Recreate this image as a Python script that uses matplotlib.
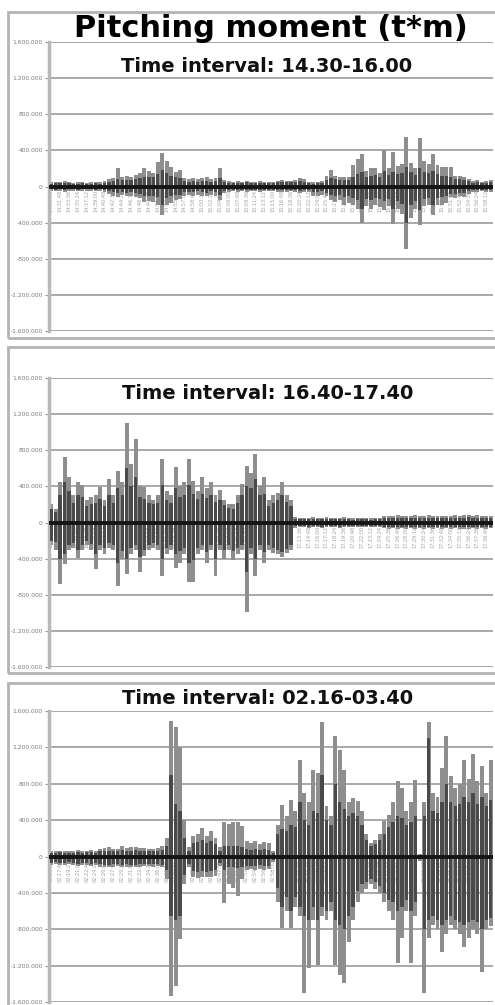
import matplotlib
matplotlib.use("Agg")
import matplotlib.pyplot as plt
from matplotlib.patches import Rectangle
import numpy as np

# ---------------- data (values in thousands of t*m) ----------------
title = "Pitching moment (t*m)"
subtitles = ["Time interval: 14.30-16.00", "Time interval: 16.40-17.40", "Time interval: 02.16-03.40"]
time_ranges = [("14:30", "16:00"), ("16:40", "17:40"), ("02:16", "03:40")]
yticks = [-1600, -1200, -800, -400, 0, 400, 800, 1200, 1600]

p1_light_up = [45, 50, 55, 60, 50, 40, 45, 50, 40, 45,
               50, 45, 60, 80, 90, 200, 110, 120, 100, 130,
               150, 200, 170, 150, 270, 375, 280, 215, 160, 180,
               90, 85, 95, 80, 90, 100, 80, 90, 200, 70,
               60, 55, 60, 50, 65, 55, 50, 60, 55, 50,
               55, 60, 70, 65, 60, 70, 90, 85, 50, 45,
               50, 60, 120, 178, 120, 100, 110, 100, 233, 300,
               360, 170, 200, 210, 150, 400, 200, 380, 230, 250,
               545, 260, 200, 535, 280, 250, 365, 240, 215, 215,
               215, 120, 120, 110, 85, 60, 70, 55, 60, 70]
p1_dark_up = [30, 35, 40, 40, 35, 30, 30, 35, 30, 30,
              35, 30, 40, 50, 60, 80, 70, 75, 70, 80,
              90, 110, 100, 100, 140, 180, 150, 120, 100, 90,
              60, 55, 60, 55, 60, 65, 55, 60, 90, 50,
              40, 40, 40, 35, 45, 40, 35, 40, 40, 35,
              40, 45, 50, 45, 45, 50, 60, 55, 35, 30,
              35, 40, 70, 90, 80, 70, 75, 70, 110, 140,
              160, 110, 120, 130, 100, 170, 130, 160, 140, 150,
              220, 160, 130, 200, 160, 150, 170, 140, 120, 120,
              110, 80, 80, 70, 60, 40, 45, 40, 40, 45]
p1_light_down = [50, 55, 50, 60, 45, 50, 55, 50, 45, 50,
                 55, 50, 60, 80, 100, 120, 90, 110, 100, 120,
                 130, 170, 160, 170, 200, 320, 210, 180, 150, 140,
                 100, 95, 100, 90, 100, 110, 90, 100, 150, 70,
                 60, 55, 60, 55, 60, 55, 50, 60, 55, 50,
                 55, 60, 65, 60, 55, 65, 70, 65, 60, 100,
                 100, 90, 110, 150, 170, 150, 200, 180, 210, 250,
                 400, 220, 250, 200, 230, 260, 220, 415, 250, 300,
                 690, 350, 250, 430, 220, 200, 320, 210, 200, 180,
                 120, 130, 110, 120, 80, 60, 65, 55, 60, 60]
p1_dark_down = [30, 35, 30, 40, 30, 30, 35, 30, 30, 30,
                35, 30, 40, 50, 60, 70, 60, 70, 65, 75,
                80, 100, 100, 110, 120, 200, 130, 110, 90, 90,
                60, 60, 65, 55, 60, 70, 55, 60, 90, 45,
                40, 35, 40, 35, 40, 35, 35, 40, 35, 35,
                35, 40, 40, 40, 35, 40, 45, 40, 40, 60,
                60, 55, 70, 90, 100, 90, 120, 110, 130, 150,
                250, 140, 150, 130, 140, 160, 140, 250, 160, 190,
                400, 210, 160, 260, 140, 130, 200, 130, 120, 110,
                80, 80, 70, 75, 50, 40, 40, 35, 40, 40]

p2_light_up = [200, 150, 450, 720, 500, 300, 450, 410, 250, 280,
               300, 390, 250, 480, 300, 575, 450, 1100, 650, 920,
               400, 390, 300, 250, 300, 700, 350, 300, 610, 400,
               450, 700, 465, 350, 500, 380, 450, 300, 355, 250,
               210, 200, 300, 430, 630, 550, 755, 400, 500, 250,
               300, 330, 450, 300, 250, 60, 55, 50, 55, 60,
               55, 50, 60, 55, 50, 55, 60, 50, 45, 50,
               55, 50, 45, 50, 55, 70, 75, 70, 80, 75,
               70, 75, 80, 70, 75, 80, 70, 75, 70, 75,
               70, 80, 75, 80, 85, 75, 80, 70, 75, 70]
p2_dark_up = [150, 120, 300, 450, 350, 220, 300, 280, 180, 200,
              220, 260, 180, 300, 220, 380, 300, 600, 400, 500,
              280, 260, 220, 200, 220, 420, 250, 220, 380, 280,
              300, 420, 320, 260, 320, 270, 300, 230, 250, 190,
              160, 150, 220, 300, 400, 380, 480, 300, 320, 180,
              220, 250, 300, 230, 180, 40, 40, 35, 40, 40,
              40, 35, 40, 40, 35, 40, 40, 35, 30, 35,
              40, 35, 30, 35, 40, 50, 55, 50, 55, 55,
              50, 55, 55, 50, 55, 55, 50, 55, 50, 55,
              50, 55, 55, 55, 60, 55, 55, 50, 55, 50]
p2_light_down = [250, 300, 680, 460, 300, 280, 390, 300, 250, 300,
                 515, 300, 350, 280, 300, 700, 400, 570, 350, 300,
                 550, 370, 300, 280, 300, 590, 350, 300, 500, 445,
                 350, 660, 660, 350, 300, 450, 300, 590, 300, 400,
                 300, 420, 350, 300, 990, 350, 590, 300, 450, 300,
                 335, 350, 380, 340, 300, 60, 55, 55, 60, 55,
                 55, 60, 55, 50, 55, 60, 55, 50, 55, 55,
                 50, 55, 55, 50, 55, 65, 70, 65, 70, 65,
                 70, 65, 70, 65, 70, 65, 70, 65, 70, 65,
                 70, 65, 70, 75, 70, 65, 70, 65, 70, 65]
p2_dark_down = [200, 220, 400, 350, 250, 230, 300, 250, 200, 240,
                350, 250, 280, 230, 250, 450, 320, 400, 280, 250,
                380, 300, 250, 230, 250, 400, 280, 250, 350, 320,
                280, 450, 420, 280, 250, 330, 250, 400, 250, 300,
                250, 320, 280, 250, 550, 280, 400, 250, 330, 250,
                280, 300, 330, 290, 250, 40, 40, 40, 45, 40,
                40, 45, 40, 35, 40, 45, 40, 35, 40, 40,
                35, 40, 40, 35, 40, 50, 50, 50, 55, 50,
                50, 50, 55, 50, 55, 50, 55, 50, 55, 50,
                55, 50, 55, 55, 55, 50, 55, 50, 55, 50]

p3_light_up = [60, 55, 65, 60, 55, 60, 70, 60, 65, 70,
               60, 80, 90, 100, 85, 80, 110, 90, 100, 105,
               95, 90, 80, 85, 90, 110, 200, 1490, 1420, 1200,
               400, 100, 220, 250, 310, 220, 280, 200, 100, 380,
               360, 380, 380, 340, 165, 150, 170, 140, 160, 150,
               60, 350, 570, 450, 625, 500, 1060, 700, 600, 950,
               915, 1480, 550, 450, 1320, 1170, 950, 600, 645, 610,
               500, 250, 150, 180, 250, 390, 460, 600, 825, 750,
               500, 600, 845, 30, 600, 1480, 700, 650, 970, 1320,
               880, 750, 800, 1060, 850, 1130, 825, 1000, 700, 1060]
p3_dark_up = [40, 35, 45, 40, 35, 40, 45, 40, 45, 45,
              40, 55, 60, 65, 55, 55, 70, 60, 65, 70,
              60, 60, 55, 55, 60, 70, 120, 900, 580, 500,
              200, 60, 150, 160, 180, 150, 170, 140, 60, 120,
              110, 120, 110, 100, 80, 75, 85, 70, 80, 75,
              40, 250, 300, 280, 350, 320, 600, 400, 350, 500,
              480, 900, 400, 350, 800, 600, 520, 450, 480, 450,
              350, 180, 120, 140, 180, 250, 320, 380, 450, 420,
              350, 380, 450, 20, 450, 1300, 500, 480, 600, 800,
              600, 550, 580, 650, 600, 700, 580, 650, 560, 620]
p3_light_down = [90, 85, 95, 90, 85, 95, 100, 90, 95, 100,
                 95, 110, 115, 120, 110, 105, 120, 110, 115, 120,
                 110, 105, 100, 110, 105, 120, 250, 1530, 1420, 910,
                 300, 120, 220, 240, 220, 230, 220, 210, 100, 510,
                 300, 350, 435, 250, 145, 140, 150, 135, 145, 140,
                 60, 500, 790, 600, 790, 550, 650, 1500, 1230, 700,
                 1190, 650, 700, 600, 1190, 1300, 1390, 940, 700, 500,
                 400, 355, 300, 355, 400, 500, 600, 700, 1170, 900,
                 600, 1170, 650, 50, 1500, 900, 750, 800, 1050, 850,
                 750, 800, 850, 1000, 900, 800, 850, 1270, 800, 760]
p3_dark_down = [70, 65, 75, 70, 65, 75, 80, 70, 75, 80,
                75, 85, 90, 95, 85, 80, 95, 85, 90, 95,
                85, 80, 80, 85, 80, 95, 150, 650, 700, 650,
                200, 80, 160, 170, 160, 170, 160, 150, 70, 150,
                110, 120, 130, 110, 100, 100, 105, 95, 100, 100,
                40, 350, 550, 450, 600, 450, 550, 650, 700, 550,
                700, 550, 600, 500, 700, 750, 800, 650, 550, 380,
                300, 280, 250, 280, 320, 400, 480, 500, 600, 550,
                480, 600, 500, 30, 800, 700, 650, 700, 750, 700,
                650, 700, 720, 750, 720, 700, 720, 800, 700, 680]

panels = [
    (p1_light_up, p1_dark_up, p1_light_down, p1_dark_down),
    (p2_light_up, p2_dark_up, p2_light_down, p2_dark_down),
    (p3_light_up, p3_dark_up, p3_light_down, p3_dark_down),
]

# ---------------- layout (pixels) ----------------
W, H = 495, 1005
frames = [(8, 12, 338), (8, 347, 673), (8, 683, 1010)]       # x0, top, bottom
axes_px = [(42, 331), (378, 667), (711, 1002)]                # top, bottom of plot area
ax_left, ax_right = 49, 493
sub_y = [72, 399, 704]                                          # baselines
sub_x = [267, 268, 268]

LIGHT = "#8e8e8e"
DARK = "#4a4a4a"
GRID = "#a9a9a9"

fig = plt.figure(figsize=(W / 100, H / 100), dpi=100)
fig.patch.set_facecolor("white")


def fmt(v):
    s = f"{abs(int(v)):,}".replace(",", ".")
    return ("-" if v < 0 else "") + s


for k, (lu, du, ld, dd) in enumerate(panels):
    x0, ftop, fbot = frames[k]
    fig.add_artist(Rectangle((x0 / W, 1 - fbot / H), (W + 10 - x0) / W, (fbot - ftop) / H,
                             transform=fig.transFigure, fill=False, ec="#b3b3b3", lw=2.0))
    top, bot = axes_px[k]
    ax = fig.add_axes([ax_left / W, 1 - bot / H, (ax_right - ax_left) / W, (bot - top) / H])
    n = len(lu)
    x = np.arange(n)
    lu_v = np.array(lu) * 1000
    du_v = np.array(du) * 1000
    ld_v = -np.array(ld) * 1000
    dd_v = -np.array(dd) * 1000
    ax.bar(x, lu_v, width=0.9, color=LIGHT, lw=0, zorder=2)
    ax.bar(x, ld_v, width=0.9, color=LIGHT, lw=0, zorder=2)
    ax.bar(x, du_v, width=0.75, color=DARK, lw=0, zorder=3)
    ax.bar(x, dd_v, width=0.75, color=DARK, lw=0, zorder=3)
    ax.axhline(0, color="#151515", lw=2.8, zorder=4)

    ax.set_xlim(-0.5, n - 0.5)
    ax.set_ylim(-1600000, 1600000)
    yt = np.array(yticks) * 1000
    ax.set_yticks(yt)
    ax.set_yticklabels([fmt(v) for v in yt], fontsize=4.3, color="#7a7a7a")
    ax.tick_params(axis="y", length=3, width=0.8, color="#9a9a9a", pad=1.5)
    ax.yaxis.grid(True, color=GRID, lw=1.4, zorder=0)
    ax.set_axisbelow(True)

    # category labels (times), placed just under the zero line
    t0, t1 = time_ranges[k]
    h0, m0 = map(int, t0.split(":"))
    h1, m1 = map(int, t1.split(":"))
    start = h0 * 3600 + m0 * 60
    end = h1 * 3600 + m1 * 60
    step = (end - start) / n
    tick_pos = x[::2]
    labels = []
    for p in tick_pos:
        s = int(start + p * step)
        labels.append(f"{s // 3600:02d}:{(s % 3600) // 60:02d}:{s % 60:02d}")
    ax.spines["bottom"].set_position(("data", 0))
    ax.spines["bottom"].set_visible(False)
    ax.set_xticks(tick_pos)
    ax.set_xticklabels(labels, rotation=90, fontsize=3.6, color="#a0a0a0")
    ax.tick_params(axis="x", length=0, pad=2.5)
    for lab in ax.get_xticklabels():
        lab.set_zorder(6)

    for sp in ["top", "right"]:
        ax.spines[sp].set_visible(False)
    ax.spines["left"].set_color("#b8b8b8")
    ax.spines["left"].set_linewidth(2.5)
    ax.patch.set_alpha(0)

    fig.text(sub_x[k] / W, 1 - sub_y[k] / H, subtitles[k], ha="center", va="baseline",
             fontsize=14, fontweight="bold", family="DejaVu Sans", color="#111111", zorder=10)

fig.text(271 / W, 1 - 37 / H, title, ha="center", va="baseline", fontsize=22,
         fontweight="bold", family="DejaVu Sans", color="black", zorder=10)

fig.savefig("out.png", dpi=100, facecolor="white")
